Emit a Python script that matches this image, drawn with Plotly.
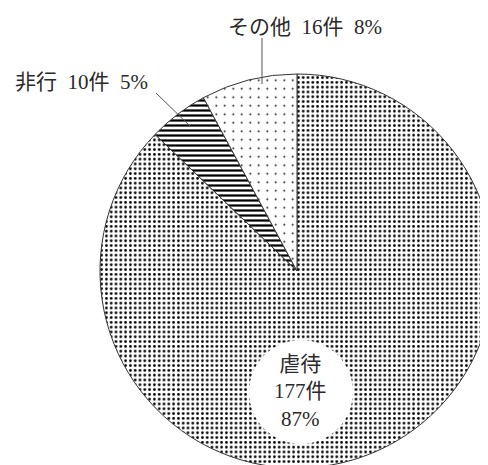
import plotly.graph_objects as go

# ---- data ----
labels = ["虐待", "非行", "その他"]
counts = [177, 10, 16]
percents = [87, 5, 8]

# ---- styles ----
W, H = 488, 465
OFF = 8  # page body margin: window pixel -> figure pixel
FONT = "Liberation Serif, 'Noto Sans CJK JP', serif"
TXT = "#2a2a2a"
SP = "\u2002"
pattern_shapes = [".", "-", "."]
pattern_sizes = [4.8, 5, 8.5]
pattern_solid = [0.24, 0.45, 0.035]


def px(x):
    return (x - OFF) / W


def py(y):
    return 1 - (y - OFF) / H


# pie: centre (297, 271), radius 197 in window pixels
cx, cy, r = 297, 271, 197

fig = go.Figure(
    go.Pie(
        labels=labels,
        values=counts,
        sort=False,
        direction="clockwise",
        rotation=0,
        textinfo="none",
        hoverinfo="label+value+percent",
        showlegend=False,
        domain=dict(x=[px(cx - r), px(cx + r)], y=[py(cy + r), py(cy - r)]),
        marker=dict(
            colors=["white"] * 3,
            line=dict(color="#333333", width=1),
            pattern=dict(
                shape=pattern_shapes,
                size=pattern_sizes,
                solidity=pattern_solid,
                fgcolor="black",
                bgcolor="white",
                fillmode="replace",
            ),
        ),
    )
)

shapes = [
    # white disc behind the main label
    dict(type="circle", xref="paper", yref="paper",
         x0=px(249), x1=px(353), y0=py(444), y1=py(340),
         fillcolor="white", line=dict(width=0), layer="above"),
    # leader line for その他
    dict(type="line", xref="paper", yref="paper",
         x0=px(262), x1=px(262), y0=py(38), y1=py(84),
         line=dict(color="#555555", width=1), layer="above"),
    # leader line for 非行
    dict(type="line", xref="paper", yref="paper",
         x0=px(156), x1=px(191), y0=py(93), y1=py(127),
         line=dict(color="#555555", width=1), layer="above"),
]

annotations = [
    dict(text=f"{labels[0]}<br>{counts[0]}件<br>{percents[0]}%",
         x=px(300), y=py(391), xref="paper", yref="paper",
         showarrow=False, xanchor="center", yanchor="middle",
         font=dict(family=FONT, size=21, color=TXT)),
    dict(text=f"{labels[2]}{SP}{counts[2]}件{SP}{percents[2]}%",
         x=px(305), y=py(27), xref="paper", yref="paper",
         showarrow=False, xanchor="center", yanchor="middle",
         font=dict(family=FONT, size=21, color=TXT)),
    dict(text=f"{labels[1]}{SP}{counts[1]}件{SP}{percents[1]}%",
         x=px(81), y=py(82), xref="paper", yref="paper",
         showarrow=False, xanchor="center", yanchor="middle",
         font=dict(family=FONT, size=21, color=TXT)),
]

fig.update_layout(
    width=W, height=H,
    margin=dict(l=0, r=0, t=0, b=0),
    paper_bgcolor="white",
    plot_bgcolor="white",
    shapes=shapes,
    annotations=annotations,
)

fig.write_html("out.html")
